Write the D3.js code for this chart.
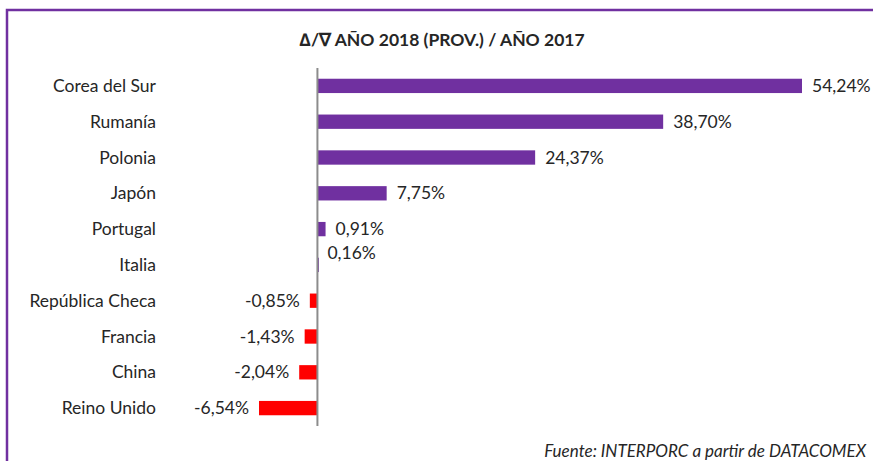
<!DOCTYPE html>
<html>
<head>
<meta charset="utf-8">
<script src="https://cdn.jsdelivr.net/npm/d3@7"></script>
<style>
  html, body { margin: 0; padding: 0; background: #fff; }
  svg { display: block; font-family: Lato, "Open Sans", sans-serif; }
</style>
</head>
<body>
<svg id="chart" width="873" height="461"></svg>
<script>
// Variation 2018 (provisional) vs 2017, by country
const countries = ["Corea del Sur", "Rumanía", "Polonia", "Japón", "Portugal", "Italia",
                   "República Checa", "Francia", "China", "Reino Unido"];
const changes = [54.24, 38.70, 24.37, 7.75, 0.91, 0.16, -0.85, -1.43, -2.04, -6.54];
const valueLabels = ["54,24%", "38,70%", "24,37%", "7,75%", "0,91%", "0,16%",
                     "-0,85%", "-1,43%", "-2,04%", "-6,54%"];

const svg = d3.select("#chart");
const W = 873, H = 461;
const purple = "#7030A0", red = "#FF0000", textCol = "#262626";

// frame
svg.append("path")
  .attr("d", `M7,${H} V10 H${W}`)
  .attr("fill", "none")
  .attr("stroke", purple)
  .attr("stroke-width", 2.5);

svg.append("text")
  .attr("x", 442).attr("y", 46)
  .attr("text-anchor", "middle")
  .attr("font-size", 17.5).attr("font-weight", "bold")
  .attr("fill", textCol)
  .text("∆/∇  AÑO 2018 (PROV.)  / AÑO 2017");

const x = d3.scaleLinear().domain([-6.54, 54.24]).range([259, 802]);
const y = d3.scaleBand().domain(countries).range([68, 426]).paddingInner(0.6).paddingOuter(0.3);

const rows = countries.map((c, i) => ({ c, v: changes[i], lab: valueLabels[i] }));

svg.append("g").selectAll("rect").data(rows).join("rect")
  .attr("x", d => x(Math.min(0, d.v)))
  .attr("y", d => y(d.c))
  .attr("width", d => Math.abs(x(d.v) - x(0)))
  .attr("height", y.bandwidth())
  .attr("fill", d => d.v >= 0 ? purple : red);

// zero axis line
svg.append("line")
  .attr("x1", x(0)).attr("x2", x(0))
  .attr("y1", 68).attr("y2", 426)
  .attr("stroke", "#8c8c8c").attr("stroke-width", 2);

// category labels
svg.append("g").selectAll("text").data(rows).join("text")
  .attr("x", 156)
  .attr("y", d => y(d.c) + y.bandwidth() / 2)
  .attr("dy", "0.35em")
  .attr("text-anchor", "end")
  .attr("font-size", 17.5)
  .attr("fill", textCol)
  .text(d => d.c);

// value labels
svg.append("g").selectAll("text").data(rows).join("text")
  .attr("x", d => d.c === "Italia" ? x(0) + 10 : (d.v >= 0 ? x(d.v) + 10 : x(d.v) - 10))
  .attr("y", d => y(d.c) + y.bandwidth() / 2 + (d.c === "Italia" ? -12 : 0))
  .attr("dy", "0.35em")
  .attr("text-anchor", d => d.v >= 0 ? "start" : "end")
  .attr("font-size", 17.5)
  .attr("fill", textCol)
  .text(d => d.lab);

svg.append("text")
  .attr("x", 866).attr("y", 457)
  .attr("text-anchor", "end")
  .attr("font-size", 17).attr("font-style", "italic")
  .attr("fill", textCol)
  .text("Fuente: INTERPORC  a partir de DATACOMEX");
</script>
</body>
</html>
